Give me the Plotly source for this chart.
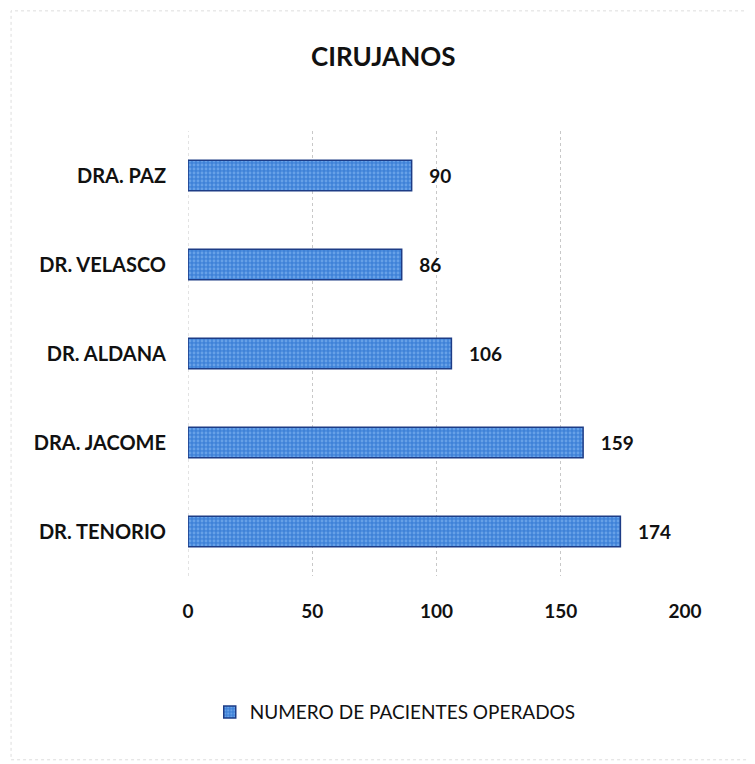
import plotly.graph_objects as go

cirujanos = ["DR. TENORIO", "DRA. JACOME", "DR. ALDANA", "DR. VELASCO", "DRA. PAZ"]
pacientes = [174, 159, 106, 86, 90]
x_ticks = [0, 50, 100, 150, 200]

FONT = "Lato"
NB = "\u00a0"

fig = go.Figure()
fig.add_trace(go.Bar(
    y=cirujanos, x=pacientes, orientation="h",
    name="NUMERO DE PACIENTES OPERADOS",
    marker=dict(color="#4d8fe0", line=dict(color="#1d3c86", width=1.5),
                pattern=dict(shape=".", fgcolor="#8fc0f5", bgcolor="#3f82d8", size=4, solidity=0.4)),
    width=0.34,
    text=[f"{NB*3}<b>{v}</b>" for v in pacientes], textposition="outside",
    textfont=dict(family=FONT, size=19, color="#111111"),
    cliponaxis=False,
))

fig.update_layout(
    width=755, height=764,
    paper_bgcolor="white", plot_bgcolor="white",
    margin=dict(l=180, r=78, t=123, b=196),
    title=dict(text="<b>CIRUJANOS</b>", x=0.497, xanchor="center", y=0.936, yanchor="middle",
               font=dict(family=FONT, size=26, color="#111111")),
    font=dict(family=FONT, color="#111111"),
    showlegend=True,
    legend=dict(orientation="h", x=0.417, xanchor="center", y=-0.306, yanchor="middle",
                font=dict(family=FONT, size=19, color="#111111"), itemwidth=30),
    bargap=0.66,
)
fig.update_xaxes(range=[0, 200], tickvals=x_ticks, ticktext=[f"<b>{v}</b>" for v in x_ticks],
                 showgrid=True, gridcolor="#c8c8c8", griddash="dot", gridwidth=1,
                 zeroline=False, showline=False, ticks="", ticklabelstandoff=22,
                 tickfont=dict(family=FONT, size=19, color="#111111"))
fig.update_yaxes(categoryorder="array", categoryarray=cirujanos,
                 tickvals=cirujanos, ticktext=[f"<b>{c}</b>" for c in cirujanos],
                 showgrid=False, showline=False, ticks="", ticklabelstandoff=21,
                 tickfont=dict(family=FONT, size=20, color="#111111"))

fig.add_shape(type="rect", xref="paper", yref="paper", x0=-0.356, x1=1.137, y0=-0.413, y1=1.27,
              line=dict(color="#dddddd", width=1, dash="dot"))
fig.add_shape(type="line", xref="x", yref="paper", x0=0, x1=0, y0=0, y1=1,
              line=dict(color="#c8c8c8", width=1, dash="dot"), layer="below")

fig.write_html("out.html")
